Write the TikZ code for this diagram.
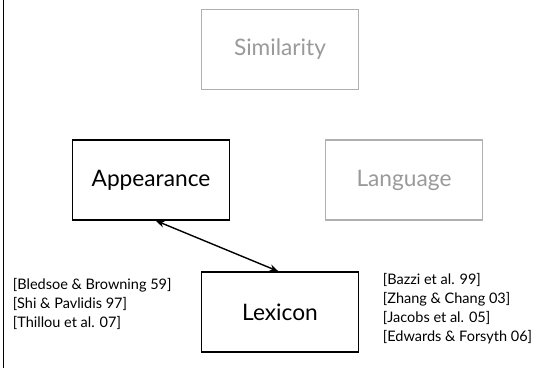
\documentclass[tikz,border=0pt]{standalone}
\usepackage{fontspec}
\setmainfont{Lato}
\usetikzlibrary{arrows.meta,calc}
\definecolor{dimgrey}{HTML}{9A9A9A}
\definecolor{dimline}{HTML}{B0B0B0}
\begin{document}
\begin{tikzpicture}[x=1pt,y=-1pt,
  box/.style={draw=black, line width=1.3pt, minimum width=157pt, minimum height=80pt, inner sep=0pt, font=\fontsize{22.7}{27}\selectfont},
  greybox/.style={box, draw=dimline, text=dimgrey, line width=1.6pt},
  cites/.style={align=left, inner sep=0pt, font=\fontsize{14.5}{19}\selectfont},
  link/.style={{Stealth[length=9pt,width=7pt]}-{Stealth[length=9pt,width=7pt]}, line width=1.4pt}]
\useasboundingbox (0,0) rectangle (552,368);
\draw[line width=1pt] (3.3,0) -- (3.3,368);
\node[greybox] (sim) at (280,49.5) {Similarity};
\node[box] (app) at (151,180) {Appearance};
\node[greybox] (lang) at (404,180) {Language};
\node[box] (lex) at (280,312) {Lexicon};
\draw[link] ($(app.south west)!0.53!(app.south east)$) -- ($(lex.north west)!0.49!(lex.north east)$);
\node[cites, anchor=base west] (lcite) at (12.7,327) {{[}Bledsoe \& Browning 59{]}\\{[}Shi \& Pavlidis 97{]}\\{[}Thillou et al. 07{]}};
\node[cites, anchor=base west] (rcite) at (382.7,341) {{[}Bazzi et al. 99{]}\\{[}Zhang \& Chang 03{]}\\{[}Jacobs et al. 05{]}\\{[}Edwards \& Forsyth 06{]}};
\end{tikzpicture}
\end{document}
